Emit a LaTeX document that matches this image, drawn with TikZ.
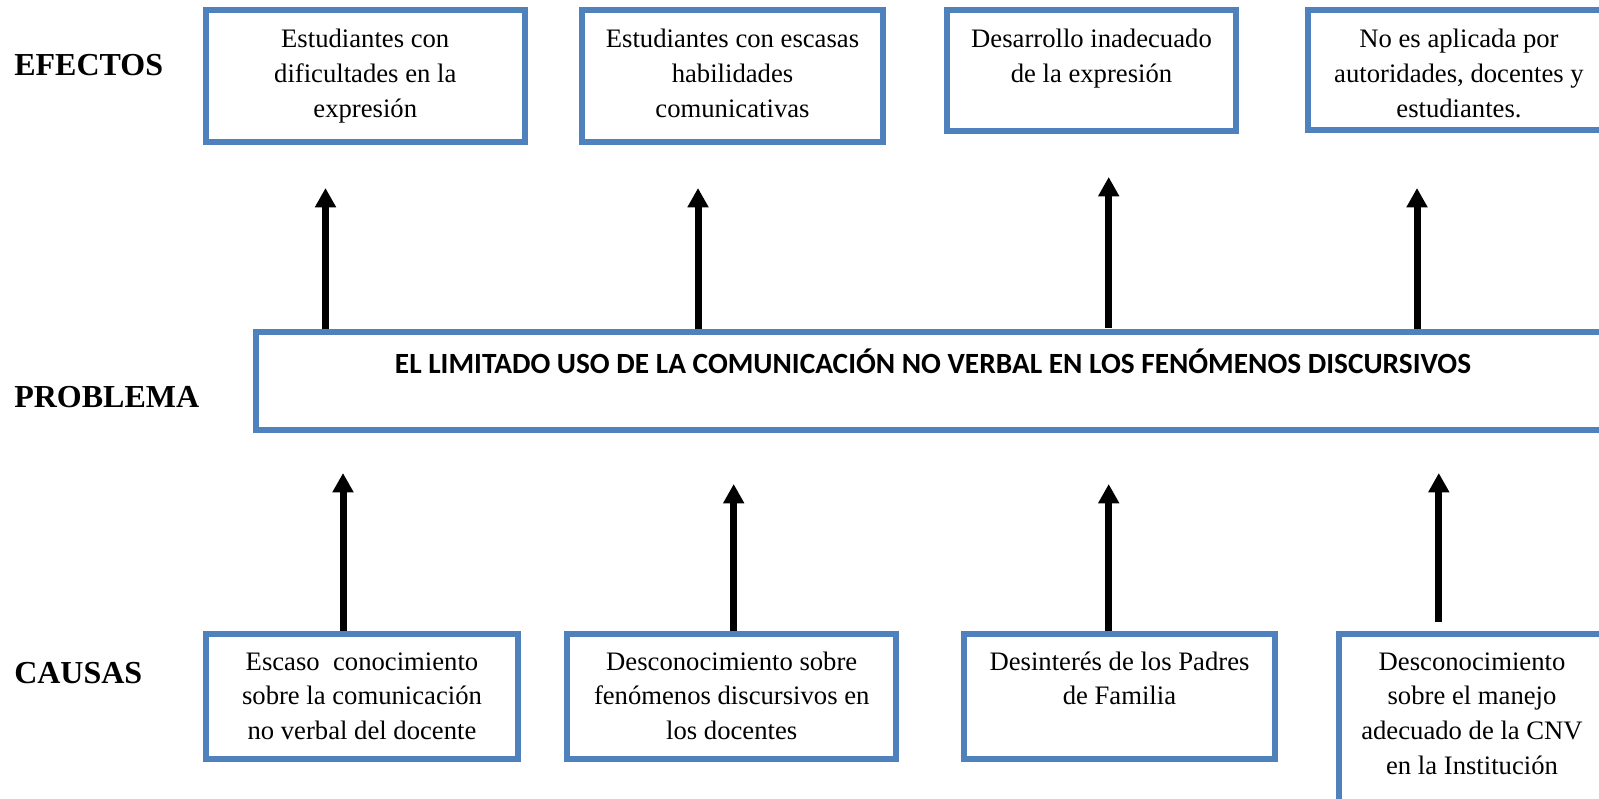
\documentclass[tikz,border=0pt]{standalone}
\usepackage{fontspec}
\setmainfont{Liberation Serif}
\newfontfamily\calibri{Carlito}
\usetikzlibrary{arrows.meta}
\definecolor{boxblue}{RGB}{79,129,189}
\newcommand{\bxt}[4]{\parbox[c][#2][t]{#1}{\centering\rule{0pt}{#3}#4}}
\begin{document}
\begin{tikzpicture}[x=0.75pt,y=-0.75pt,
  box/.style={draw=boxblue, line width=4.5pt, inner sep=0pt, outer sep=0pt,
    font=\fontsize{20pt}{26pt}\selectfont},
  lbl/.style={anchor=base west, inner sep=0pt, font=\fontsize{24pt}{28pt}\selectfont\bfseries},
  arr/.style={line width=5.25pt, -{Triangle[width=15pt,length=14.5pt]}}]
\useasboundingbox (0,0) rectangle (1599,799);
\clip (0,0) rectangle (1599,799);
\fill[white] (0,0) rectangle (1599,799);

% labels
\node[lbl] (lef) at (14,75) {EFECTOS};
\node[lbl] (lpr) at (14,407) {PROBLEMA};
\node[lbl] (lca) at (14,683) {CAUSAS};

% effects
\node[box] (e1) at (365.25,76) {\bxt{238.9pt}{99pt}{28.5pt}{Estudiantes con\\dificultades en la\\expresión}};
\node[box] (e2) at (732.5,76) {\bxt{225.75pt}{99pt}{28.5pt}{Estudiantes con escasas\\habilidades\\comunicativas}};
\node[box] (e3) at (1091.5,70.5) {\bxt{216.75pt}{90.75pt}{28.5pt}{Desarrollo inadecuado\\de la expresión}};
\node[box] (e4) at (1459,70) {\bxt{226.5pt}{90pt}{28.5pt}{No es aplicada por\\autoridades, docentes y\\estudiantes.}};

% problem
\node[box] (p) at (933,381) {\bxt{1016.25pt}{73.5pt}{30.75pt}{\calibri\bfseries\fontsize{22pt}{26pt}\selectfont EL LIMITADO USO DE LA COMUNICACIÓN NO VERBAL EN LOS FENÓMENOS DISCURSIVOS}};

% causes
\node[box] (c1) at (362,696.5) {\bxt{234pt}{93.75pt}{27pt}{Escaso\ \ conocimiento\\sobre la comunicación\\no verbal del docente}};
\node[box] (c2) at (731.75,696.5) {\bxt{247.1pt}{93.75pt}{27pt}{Desconocimiento sobre\\fenómenos discursivos en\\los docentes}};
\node[box] (c3) at (1119.5,696.5) {\bxt{233.25pt}{93.75pt}{27pt}{Desinterés de los Padres\\de Familia}};
\node[box] (c4) at (1472,722) {\bxt{199.5pt}{132pt}{27pt}{Desconocimiento\\sobre el manejo\\adecuado de la CNV\\en la Institución}};

% arrow tips
\coordinate (ta1) at (325.5,188);
\coordinate (ta2) at (698,188);
\coordinate (ta3) at (1108.7,177);
\coordinate (ta4) at (1417,188);
\coordinate (tb1) at (343,473);
\coordinate (tb2) at (733.7,484);
\coordinate (tb3) at (1108.7,484);
\coordinate (tb4) at (1438.8,473);
\coordinate (sb4) at (1438.8,622);

\draw[arr] ([yshift=2.25pt]p.north -| ta1) -- (ta1);
\draw[arr] ([yshift=2.25pt]p.north -| ta2) -- (ta2);
\draw[arr] ([yshift=3pt]p.north -| ta3) -- (ta3);
\draw[arr] ([yshift=2.25pt]p.north -| ta4) -- (ta4);

\draw[arr] ([yshift=2.25pt]c1.north -| tb1) -- (tb1);
\draw[arr] ([yshift=2.25pt]c2.north -| tb2) -- (tb2);
\draw[arr] ([yshift=2.25pt]c3.north -| tb3) -- (tb3);
\draw[arr] (sb4) -- (tb4);
\end{tikzpicture}
\end{document}
